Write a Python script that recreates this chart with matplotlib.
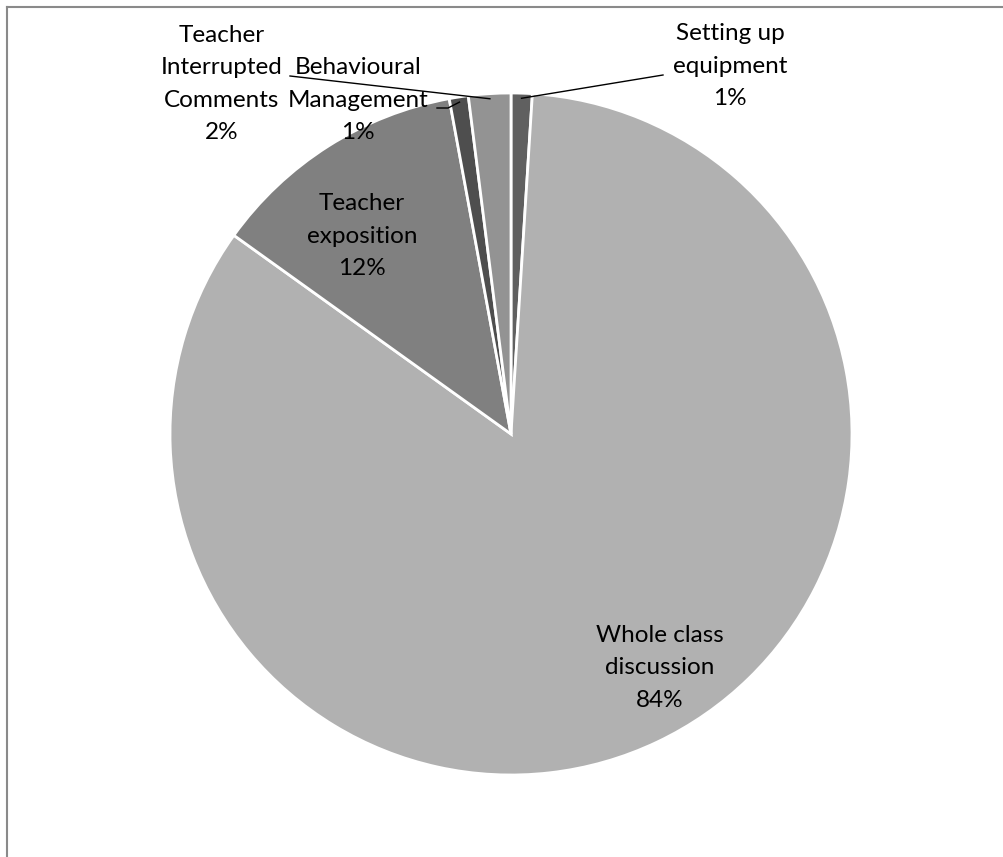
import matplotlib

matplotlib.use("Agg", force=True)
import matplotlib.pyplot as plt
import numpy as np

# Share of lesson time by activity (clockwise from 12 o'clock)
categories = [
    "Setting up\nequipment",
    "Whole class\ndiscussion",
    "Teacher\nexposition",
    "Behavioural\nManagement",
    "Teacher\nInterrupted\nComments",
]
shares = [1.0, 83.9, 12.2, 0.9, 2.0]
colors = ["#606060", "#b1b1b1", "#808080", "#4e4e4e", "#939393"]

W, H = 1004, 857
fig = plt.figure(figsize=(W / 100, H / 100), dpi=100)
ax = fig.add_axes([0, 0, 1, 1])

cx, cy, r = 511, H - 434, 341
wedges, _ = ax.pie(
    shares,
    colors=colors,
    startangle=90,
    counterclock=False,
    radius=r,
    center=(cx, cy),
    wedgeprops=dict(edgecolor="white", linewidth=2),
)
ax.set_xlim(0, W)
ax.set_ylim(0, H)
ax.set_aspect("equal")
ax.axis("off")

# chart frame (top and left edge only visible in the crop)
ax.plot([7, W], [H - 7, H - 7], color="#8a8a8a", lw=1.5)
ax.plot([7, 7], [0, H - 7], color="#8a8a8a", lw=1.5)

font = dict(family=["Lato", "DejaVu Sans"], fontsize=17.5, color="black",
            ha="center", va="center", linespacing=1.68)

# label centres in pixels from top-left
label_pos = [(730, 66), (660, 668), (362, 236), (358, 100), (222, 84)]
for name, val, (lx, ly) in zip(categories, shares, label_pos):
    ax.text(lx, H - ly, f"{name}\n{round(val):.0f}%", **font)


def edge_point(idx, frac=1.0):
    w = wedges[idx]
    mid = np.deg2rad((w.theta1 + w.theta2) / 2)
    return cx + r * frac * np.cos(mid), cy + r * frac * np.sin(mid)


# leader lines
x0, y0 = edge_point(0, 0.985)
ax.plot([x0, 663], [y0, H - 75], color="black", lw=1)
x0, y0 = edge_point(4, 0.985)
ax.plot([x0, 290], [y0, H - 76], color="black", lw=1)
x0, y0 = edge_point(3, 0.985)
ax.plot([x0, 448, 437], [y0, H - 108, H - 108], color="black", lw=1)

fig.savefig("out.png", dpi=100, facecolor="white")
